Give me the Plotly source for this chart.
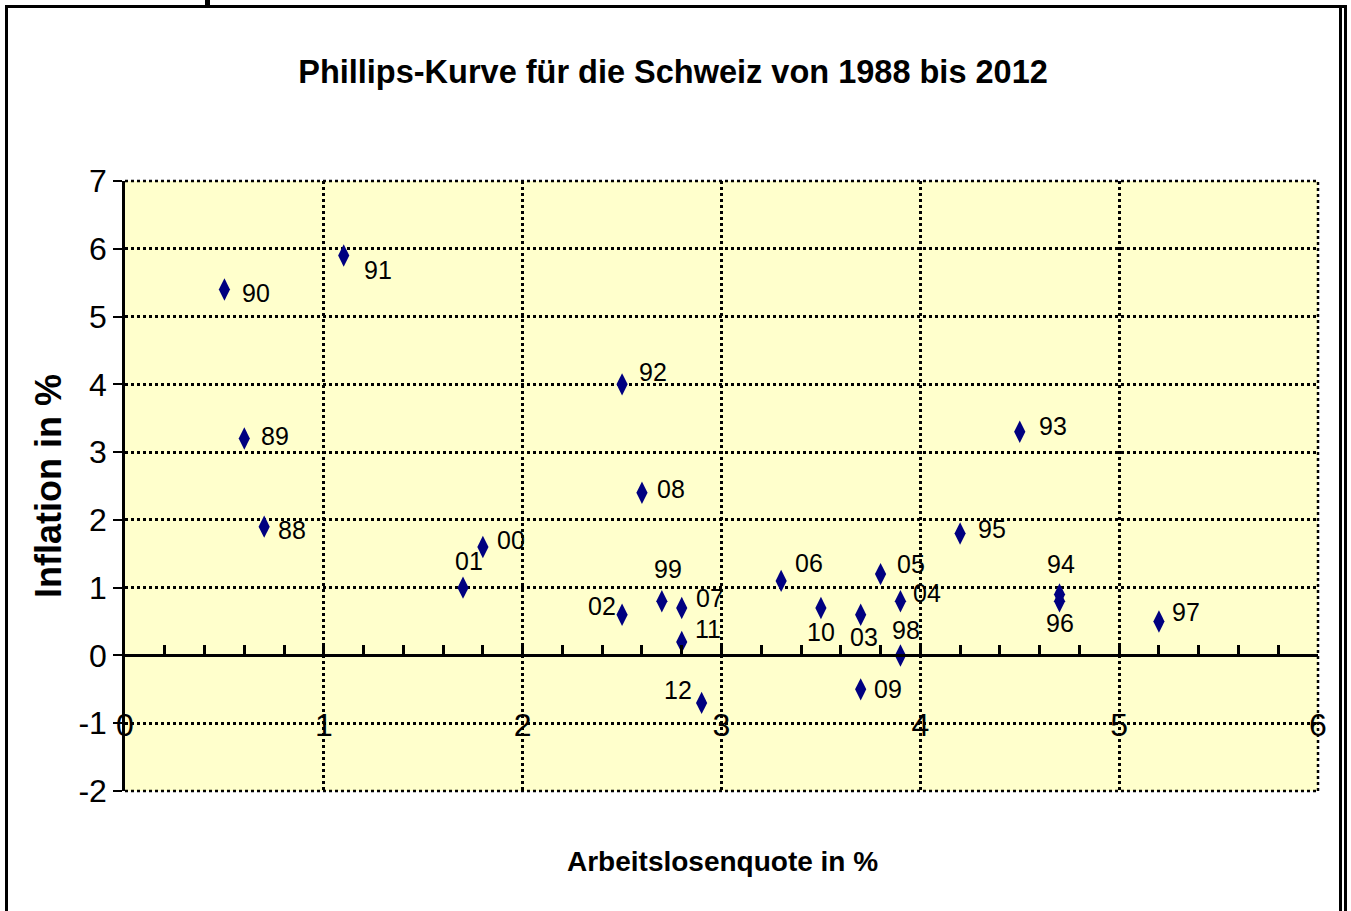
import plotly.graph_objects as go

# ---- data ----
years = ["88", "89", "90", "91", "92", "93", "94", "95", "96", "97", "98", "99",
         "00", "01", "02", "03", "04", "05", "06", "07", "08", "09", "10", "11", "12"]
unemployment = [0.7, 0.6, 0.5, 1.1, 2.5, 4.5, 4.7, 4.2, 4.7, 5.2, 3.9, 2.7,
                1.8, 1.7, 2.5, 3.7, 3.9, 3.8, 3.3, 2.8, 2.6, 3.7, 3.5, 2.8, 2.9]
inflation = [1.9, 3.2, 5.4, 5.9, 4.0, 3.3, 0.9, 1.8, 0.8, 0.5, 0.0, 0.8,
             1.6, 1.0, 0.6, 0.6, 0.8, 1.2, 1.1, 0.7, 2.4, -0.5, 0.7, 0.2, -0.7]
x_ticks = [0, 1, 2, 3, 4, 5, 6]
y_ticks = [-2, -1, 0, 1, 2, 3, 4, 5, 6, 7]
y_ticktext = [str(v) for v in y_ticks]

title_text = "Phillips-Kurve für die Schweiz von 1988 bis 2012"
x_title = "Arbeitslosenquote in %"
y_title = "Inflation in %"

# label offsets in pixels (style)
label_shift = {
    "88": (28, -3), "89": (31, 3), "90": (32, -4), "91": (34, -14), "92": (31, 12),
    "93": (33, 6), "94": (1, 30), "95": (32, 4), "96": (0, -22), "97": (27, 10),
    "98": (6, 25), "99": (6, 32), "00": (28, 7), "01": (6, 27), "02": (-20, 9),
    "03": (3, -22), "04": (27, 8), "05": (30, 10), "06": (28, 18), "07": (28, 10),
    "08": (29, 4), "09": (27, 0), "10": (0, -24), "11": (26, 13), "12": (-24, 13),
}

W, H = 1351, 911
L, R, T, B = 125, 1318, 181, 791  # plot area pixels

FONT = "Liberation Sans Narrow, Arial Narrow, Liberation Sans, Arial"
ARIAL = "Liberation Sans, Arial"

fig = go.Figure()
fig.add_trace(go.Scatter(
    x=unemployment, y=inflation, mode="markers",
    marker=dict(symbol="diamond-tall", size=16, color="#000080"),
    text=years, hoverinfo="text", showlegend=False,
))

for yr, xv, yv in zip(years, unemployment, inflation):
    dx, dy = label_shift[yr]
    fig.add_annotation(x=xv, y=yv, text=yr, showarrow=False, xshift=dx, yshift=dy,
                       font=dict(family=ARIAL, size=25, color="#000000"))

ymin, ymax = y_ticks[0], y_ticks[-1]
zero_pos = (0 - ymin) / (ymax - ymin)

grid = dict(showgrid=True, gridcolor="black", gridwidth=2.5, griddash="dot")

fig.update_layout(
    width=W, height=H,
    margin=dict(l=L, r=W - R, t=T, b=H - B, pad=0),
    paper_bgcolor="white", plot_bgcolor="#FFFFCC",
    title=dict(text="<b>" + title_text + "</b>", x=(673 - L) / (R - L), xref="paper",
               xanchor="center", y=1 - 72 / H, yref="container", yanchor="middle",
               font=dict(family=FONT, size=32.5, color="#000000")),
    xaxis=dict(range=[x_ticks[0], x_ticks[-1]], tickvals=x_ticks,
               anchor="free", position=zero_pos,
               showline=True, linecolor="black", linewidth=3,
               ticks="inside", ticklen=11, tickwidth=3, tickcolor="black",
               minor=dict(dtick=0.2, ticks="inside", ticklen=9, tickwidth=3,
                          tickcolor="black", showgrid=False),
               zeroline=False, ticklabelstandoff=40,
               tickfont=dict(family=FONT, size=32, color="#000000"), **grid),
    yaxis=dict(range=[ymin, ymax], tickvals=y_ticks, ticktext=y_ticktext,
               showline=True, linecolor="black", linewidth=2.5,
               ticks="outside", ticklen=9, tickwidth=2, tickcolor="black",
               zeroline=False,
               tickfont=dict(family=FONT, size=32, color="#000000"), **grid),
)

fig.add_annotation(text="<b>" + x_title + "</b>", xref="paper", yref="paper",
                   x=(722 - L) / (R - L), y=(B - 862) / (B - T), showarrow=False,
                   xanchor="center", yanchor="middle",
                   font=dict(family=FONT, size=28, color="#000000"))
fig.add_annotation(text="<b>" + y_title + "</b>", xref="paper", yref="paper",
                   x=(48 - L) / (R - L), y=(B - 486) / (B - T), showarrow=False,
                   xanchor="center", yanchor="middle", textangle=-90,
                   font=dict(family=ARIAL, size=36, color="#000000"))

def px(xp):
    return (xp - L) / (R - L)

def py(yp):
    return (B - yp) / (B - T)

# dotted plot-area edges (top, right, bottom gridlines at the range limits)
edge = dict(color="black", width=2.5, dash="dot")
fig.add_shape(type="line", xref="paper", yref="paper", x0=0, x1=1, y0=1, y1=1, line=edge)
fig.add_shape(type="line", xref="paper", yref="paper", x0=0, x1=1, y0=0, y1=0, line=edge)
fig.add_shape(type="line", xref="paper", yref="paper", x0=1, x1=1, y0=0, y1=1, line=edge)

# chart frame
frame = dict(color="black", width=3)
fig.add_shape(type="line", xref="paper", yref="paper", x0=px(6.5), x1=px(6.5), y0=py(6.5), y1=py(915), line=frame)
fig.add_shape(type="line", xref="paper", yref="paper", x0=px(5), x1=px(1347), y0=py(6.5), y1=py(6.5), line=frame)
fig.add_shape(type="line", xref="paper", yref="paper", x0=px(1340.5), x1=px(1340.5), y0=py(6.5), y1=py(915), line=frame)
fig.add_shape(type="line", xref="paper", yref="paper", x0=px(1345.5), x1=px(1345.5), y0=py(5), y1=py(915), line=frame)
fig.add_shape(type="line", xref="paper", yref="paper", x0=px(207.5), x1=px(207.5), y0=py(0), y1=py(6),
              line=dict(color="black", width=5))

fig.write_html("out.html", config={"displayModeBar": False},
               post_script="document.body.style.margin='0';document.body.style.overflow='hidden';")
